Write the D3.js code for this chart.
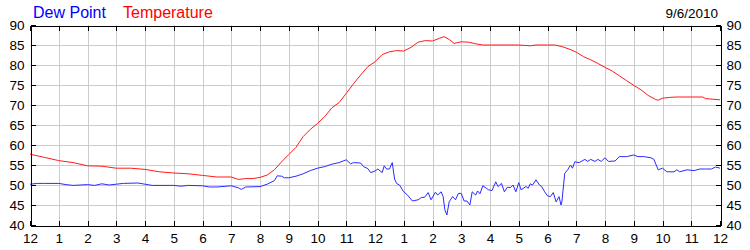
<!DOCTYPE html>
<html>
<head>
<meta charset="utf-8">
<script src="https://cdn.jsdelivr.net/npm/d3@7"></script>
<style>
  body { margin: 0; background: #fff; }
  text { font-family: "Liberation Sans", Arial, sans-serif; }
</style>
</head>
<body>
<div id="chart"></div>
<script>
// hours since midnight, readings in deg F
var tempHours = [0, 0.5, 1, 1.5, 2, 2.5, 3, 3.5, 4, 4.5, 5, 5.5, 6, 6.5, 7, 7.25, 7.5, 7.75, 8, 8.25, 8.5, 8.75, 9, 9.25, 9.5, 9.75, 10, 10.25, 10.5, 10.75, 11, 11.25, 11.5, 11.75, 12, 12.25, 12.5, 12.75, 13, 13.25, 13.5, 13.75, 14, 14.25, 14.4, 14.6, 14.75, 15, 15.25, 15.5, 15.75, 16, 16.5, 17, 17.4, 17.6, 18, 18.25, 18.5, 18.75, 19, 19.25, 19.5, 19.75, 20, 20.25, 20.5, 20.75, 21, 21.25, 21.5, 21.75, 21.85, 22, 22.25, 22.5, 23, 23.4, 23.5, 24];
var tempValues = [57.7, 56.9, 56.1, 55.6, 54.8, 54.7, 54.2, 54.2, 53.9, 53.3, 53.0, 52.8, 52.4, 52.0, 52.0, 51.4, 51.6, 51.6, 51.9, 52.5, 53.8, 55.8, 57.6, 59.4, 62.1, 63.9, 65.4, 67.1, 69.3, 70.6, 72.9, 75.3, 77.5, 79.6, 80.8, 82.6, 83.3, 83.6, 83.5, 84.4, 85.7, 86.1, 86.0, 86.7, 87.1, 86.3, 85.4, 85.8, 85.7, 85.3, 85.0, 85.0, 85.0, 85.0, 84.8, 85.0, 85.0, 85.0, 84.6, 84.0, 83.2, 82.1, 81.3, 80.4, 79.4, 78.5, 77.3, 76.1, 74.9, 73.8, 72.4, 71.4, 71.2, 71.7, 71.9, 72.0, 72.0, 72.0, 71.6, 71.3];

var dewHours = [0, 0.25, 0.5, 1, 1.25, 1.5, 2, 2.25, 2.5, 2.75, 3, 3.25, 3.75, 4, 4.25, 5, 5.25, 5.5, 6, 6.25, 6.5, 7, 7.25, 7.35, 7.5, 8, 8.25, 8.5, 8.6, 8.75, 8.85, 9, 9.25, 9.5, 9.75, 10, 10.25, 10.5, 10.75, 11, 11.15, 11.25, 11.5, 11.6, 11.75, 11.85, 12, 12.1, 12.25, 12.32, 12.4, 12.5, 12.6, 12.68, 12.75, 12.85, 13, 13.13, 13.3, 13.5, 13.62, 13.72, 13.85, 13.95, 14.1, 14.18, 14.3, 14.37, 14.43, 14.5, 14.58, 14.7, 14.8, 14.9, 15.0, 15.1, 15.2, 15.3, 15.38, 15.5, 15.57, 15.65, 15.75, 15.87, 15.95, 16.07, 16.2, 16.28, 16.4, 16.5, 16.6, 16.72, 16.8, 16.9, 17.0, 17.08, 17.25, 17.33, 17.4, 17.48, 17.6, 17.72, 17.8, 17.9, 18.0, 18.1, 18.2, 18.3, 18.4, 18.47, 18.5, 18.6, 18.7, 18.8, 18.87, 18.95, 19.1, 19.3, 19.4, 19.5, 19.65, 19.75, 19.87, 20.0, 20.12, 20.35, 20.5, 20.75, 21.0, 21.15, 21.35, 21.6, 21.7, 21.85, 22.0, 22.15, 22.4, 22.5, 22.6, 22.85, 23.1, 23.3, 23.5, 23.7, 23.85, 24];
var dewValues = [50.2, 50.4, 50.4, 50.4, 50.1, 49.9, 50.1, 49.9, 50.3, 50.0, 50.2, 50.4, 50.5, 50.2, 49.9, 49.9, 49.7, 49.9, 49.8, 49.5, 49.5, 49.8, 49.3, 48.9, 49.5, 49.6, 50.2, 51.1, 52.3, 52.2, 51.8, 51.8, 52.2, 52.8, 53.6, 54.2, 54.6, 55.2, 55.6, 56.3, 55.3, 55.6, 55.5, 54.6, 54.1, 53.1, 53.5, 54.0, 53.1, 54.8, 54.0, 54.0, 55.6, 51.5, 50.4, 50.0, 48.3, 47.5, 46.0, 46.3, 46.9, 46.9, 48.1, 46.3, 48.2, 47.5, 48.3, 47.1, 43.8, 42.5, 45.8, 47.1, 46.3, 47.9, 47.9, 46.0, 46.0, 45.0, 48.3, 47.5, 48.5, 47.8, 49.8, 49.2, 48.8, 48.6, 50.8, 49.6, 50.4, 48.3, 49.4, 49.4, 50.0, 48.3, 50.6, 48.8, 49.6, 49.2, 50.3, 50.0, 51.3, 50.0, 49.6, 48.3, 47.3, 47.1, 48.1, 45.8, 47.1, 45.0, 45.8, 52.9, 53.8, 55.0, 54.2, 55.8, 55.6, 56.4, 55.9, 56.4, 55.9, 56.4, 55.9, 56.8, 55.9, 56.0, 57.1, 57.1, 57.5, 57.1, 57.1, 56.8, 56.4, 53.8, 54.2, 53.3, 53.3, 53.8, 53.3, 53.8, 53.6, 54.0, 54.0, 54.0, 54.5, 54.2];

var hourLabels = ["12","1","2","3","4","5","6","7","8","9","10","11","12","1","2","3","4","5","6","7","8","9","10","11","12"];
var yTicks = [40, 45, 50, 55, 60, 65, 70, 75, 80, 85, 90];
var seriesNames = ["Dew Point", "Temperature"];
var seriesColors = ["#0000ff", "#ff0000"];
var dateLabel = "9/6/2010";

var width = 750, height = 250;
var plotLeft = 30, plotRight = 720, plotTop = 25, plotBottom = 225;

var svg = d3.select("#chart")
  .append("svg")
  .attr("width", width)
  .attr("height", height);

var x = d3.scaleLinear().domain([0, 24]).range([plotLeft, plotRight]);
var y = d3.scaleLinear().domain([40, 90]).range([plotBottom, plotTop]);
var hourTicks = d3.range(0, 25);

// grid
var grid = svg.append("g").attr("shape-rendering", "crispEdges");
grid.selectAll(".vg").data(hourTicks.slice(1, -1)).enter()
  .append("line")
  .attr("x1", d => x(d) + 0.5).attr("x2", d => x(d) + 0.5)
  .attr("y1", plotTop).attr("y2", plotBottom)
  .attr("stroke", "#cccccc");
grid.selectAll(".hg").data(yTicks.slice(1, -1)).enter()
  .append("line")
  .attr("x1", plotLeft).attr("x2", plotRight)
  .attr("y1", d => y(d) + 0.5).attr("y2", d => y(d) + 0.5)
  .attr("stroke", "#cccccc");

// lines
var line = d3.line().x(d => x(d[0])).y(d => y(d[1]));
svg.append("path")
  .datum(d3.zip(dewHours, dewValues))
  .attr("d", line)
  .attr("fill", "none")
  .attr("stroke", "#2a2aff")
  .attr("stroke-width", 1);
svg.append("path")
  .datum(d3.zip(tempHours, tempValues))
  .attr("d", line)
  .attr("fill", "none")
  .attr("stroke", "#ff1a1a")
  .attr("stroke-width", 1);

// axes
function styleAxis(g) {
  g.attr("shape-rendering", "crispEdges");
  g.selectAll("path").attr("stroke", "#000");
  g.selectAll("line").attr("stroke", "#000");
  g.selectAll("text")
    .attr("font-family", "'Liberation Sans', Arial, sans-serif")
    .attr("font-size", "13.5px")
    .attr("fill", "#000");
}

svg.append("g")
  .attr("transform", "translate(" + (plotLeft + 0.5) + ",0)")
  .call(d3.axisLeft(y).tickValues(yTicks).tickSizeInner(-5).tickSizeOuter(0).tickPadding(6).tickFormat(d3.format("d")))
  .call(styleAxis);

svg.append("g")
  .attr("transform", "translate(" + (plotRight + 0.5) + ",0)")
  .call(d3.axisRight(y).tickValues(yTicks).tickSizeInner(-5).tickSizeOuter(0).tickPadding(6).tickFormat(d3.format("d")))
  .call(styleAxis);

svg.append("g")
  .attr("transform", "translate(0," + (plotBottom + 0.5) + ")")
  .call(d3.axisBottom(x).tickValues(hourTicks).tickSizeInner(-5).tickSizeOuter(0).tickPadding(8).tickFormat((d, i) => hourLabels[i]))
  .call(styleAxis);

svg.append("g")
  .attr("transform", "translate(0," + (plotTop + 0.5) + ")")
  .call(d3.axisTop(x).tickValues(hourTicks).tickSizeInner(-5).tickSizeOuter(0).tickFormat(""))
  .call(styleAxis);

// legend + date
svg.append("text").attr("x", 33).attr("y", 18)
  .attr("font-size", "16px").attr("fill", seriesColors[0]).text(seriesNames[0]);
svg.append("text").attr("x", 123).attr("y", 18)
  .attr("font-size", "16px").attr("fill", seriesColors[1]).text(seriesNames[1]);
svg.append("text").attr("x", 718).attr("y", 18)
  .attr("text-anchor", "end")
  .attr("font-size", "13.5px").attr("fill", "#000").text(dateLabel);
</script>
</body>
</html>
